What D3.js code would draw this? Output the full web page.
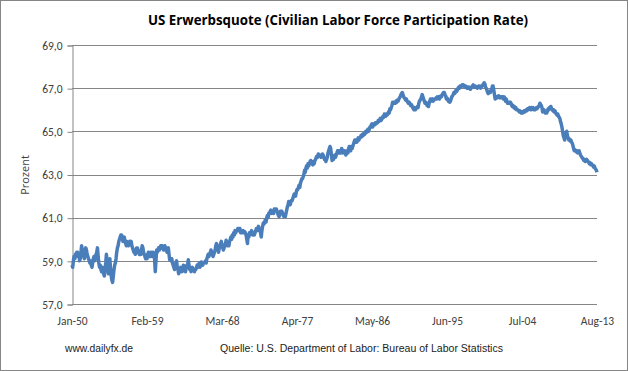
<!DOCTYPE html>
<html>
<head>
<meta charset="utf-8">
<script src="https://cdn.jsdelivr.net/npm/d3@7"></script>
<style>
  body { margin: 0; background: #fff; }
  svg { display: block; }
</style>
</head>
<body>
<div id="wrapper"></div>
<script>
// monthly participation rate, Jan 1950 .. Aug 2013
const rate1950s = [
  58.8,58.7,59.0,59.2,59.1,59.3,59.2,59.4,59.4,59.2,59.3,59.0,
  59.1,59.4,59.7,59.5,59.3,59.2,59.1,59.4,59.6,59.5,59.3,59.2,
  59.1,59.0,58.9,59.0,58.8,58.7,58.9,59.1,59.2,59.0,59.1,59.3,
  59.4,59.6,59.2,58.9,58.7,58.8,58.6,58.5,58.7,58.5,58.4,58.3,
  58.6,58.9,59.3,59.0,58.7,58.4,58.8,59.1,58.6,58.3,58.1,58.0,
  58.3,58.6,58.8,58.9,59.1,59.4,59.6,59.7,59.9,60.0,60.1,60.2,
  60.2,60.1,59.9,60.0,60.1,59.9,59.8,59.7,59.9,59.8,59.7,59.8,
  59.9,59.8,59.9,59.7,59.6,59.5,59.4,59.5,59.3,59.4,59.6,59.6,
  59.5,59.4,59.3,59.4,59.3,59.5,59.7,59.6,59.4,59.3,59.2,59.1,
  59.2,59.1,59.3,59.4,59.2,59.3,59.2,59.4,59.3,59.2,59.4,59.3
]
const rate1960s = [
  59.1,58.5,59.0,59.5,59.4,59.5,59.6,59.5,59.6,59.7,59.6,59.7,
  59.6,59.5,59.6,59.7,59.5,59.6,59.4,59.5,59.6,59.3,59.05,59.1,
  59.0,59.1,58.9,58.8,58.7,58.6,58.8,58.9,59.0,58.7,58.6,58.4,
  58.5,58.6,58.7,58.6,58.5,58.6,58.8,58.7,58.6,58.5,58.7,58.8,
  58.8,59.05,58.8,58.6,58.7,58.5,58.6,58.7,58.6,58.6,58.5,58.6,
  58.6,58.7,58.8,58.7,58.8,58.9,58.7,58.8,58.95,58.9,58.8,58.9,
  58.9,58.95,59.0,58.9,59.1,59.2,59.3,59.2,59.3,59.4,59.5,59.4,
  59.3,59.2,59.3,59.4,59.5,59.7,59.8,59.6,59.5,59.4,59.6,59.7,
  59.8,59.9,59.7,59.6,59.5,59.6,59.7,59.8,59.95,59.8,59.7,59.8,
  59.7,59.9,60.0,60.1,60.0,60.2,60.1,60.3,60.2,60.4,60.3,60.4
]
const rate1970s = [
  60.4,60.5,60.5,60.4,60.5,60.3,60.4,60.3,60.35,60.4,60.3,60.35,
  60.3,60.2,60.0,59.8,60.2,60.1,60.3,60.2,60.3,60.4,60.3,60.2,
  60.3,60.2,60.3,60.4,60.5,60.4,60.5,60.6,60.5,60.4,60.3,60.1,
  60.4,60.6,60.75,60.7,60.8,60.9,60.8,61.0,61.1,61.0,61.2,61.2,
  61.3,61.35,61.2,61.3,61.3,61.2,61.4,61.3,61.4,61.4,61.3,61.2,
  61.1,61.05,61.2,61.3,61.2,61.3,61.2,61.1,61.05,61.1,61.05,61.2,
  61.35,61.5,61.6,61.75,61.7,61.6,61.7,61.8,61.8,61.9,62.0,62.1,
  62.1,62.0,62.2,62.3,62.3,62.4,62.5,62.4,62.6,62.7,62.8,62.8,
  62.9,63.0,63.2,63.1,63.3,63.4,63.3,63.5,63.4,63.5,63.6,63.65,
  63.6,63.5,63.45,63.6,63.5,63.65,63.7,63.8,63.85,63.8,63.95,63.9
]
const rate1980s = [
  63.9,63.85,63.8,63.9,63.95,63.9,63.8,63.7,63.75,63.6,63.7,63.8,
  64.0,64.1,64.2,64.3,64.2,63.9,63.65,63.8,63.7,63.8,63.9,63.8,
  63.9,64.0,64.1,64.0,64.1,64.0,64.1,64.0,64.2,64.1,64.0,64.1,
  64.1,64.0,63.9,64.0,64.1,64.0,64.2,64.3,64.2,64.1,64.3,64.2,
  64.3,64.4,64.5,64.6,64.5,64.6,64.5,64.6,64.7,64.6,64.7,64.7,
  64.8,64.75,64.85,64.8,64.9,64.85,64.9,65.0,64.95,65.0,65.1,65.0,
  65.1,65.2,65.2,65.3,65.35,65.2,65.3,65.35,65.3,65.4,65.35,65.4,
  65.4,65.5,65.45,65.5,65.6,65.5,65.55,65.6,65.7,65.65,65.8,65.75,
  65.7,65.8,65.75,65.8,65.9,65.85,66.05,66.0,66.1,66.2,66.35,66.3,
  66.3,66.35,66.3,66.4,66.35,66.45,66.4,66.5,66.55,66.6,66.7,66.75
]
const rate1990s = [
  66.8,66.7,66.6,66.55,66.5,66.45,66.5,66.4,66.35,66.3,66.35,66.3,
  66.2,66.25,66.2,66.1,66.05,66.0,66.1,66.0,66.05,66.1,66.15,66.1,
  66.3,66.4,66.45,66.5,66.6,66.7,66.6,66.5,66.4,66.3,66.35,66.3,
  66.2,66.3,66.15,66.3,66.4,66.5,66.4,66.45,66.5,66.4,66.45,66.5,
  66.5,66.55,66.5,66.6,66.55,66.6,66.5,66.6,66.65,66.6,66.7,66.75,
  66.8,66.8,66.7,66.65,66.5,66.55,66.5,66.4,66.45,66.35,66.4,66.5,
  66.6,66.65,66.7,66.8,66.75,66.8,66.9,66.85,66.9,67.0,67.05,67.0,
  67.1,67.05,67.1,67.15,67.1,67.15,67.1,67.05,67.1,67.05,67.0,67.05,
  67.0,67.05,67.0,66.95,67.0,67.05,67.1,67.15,67.1,67.05,67.1,67.05,
  67.05,67.0,67.05,67.1,67.05,67.1,67.0,67.05,67.1,67.15,67.2,67.25
]
const rate2000s = [
  67.2,67.05,67.0,66.9,66.8,66.75,66.8,66.85,66.8,66.9,66.95,67.1,
  67.1,66.9,66.7,66.5,66.55,66.6,66.55,66.6,66.65,66.6,66.55,66.6,
  66.6,66.55,66.6,66.5,66.6,66.55,66.4,66.5,66.4,66.3,66.35,66.3,
  66.3,66.35,66.3,66.2,66.15,66.2,66.1,66.15,66.05,66.1,66.0,66.0,
  66.0,65.95,65.9,65.95,65.9,65.85,65.9,65.85,65.9,65.95,65.9,65.95,
  66.0,65.95,66.05,66.0,66.05,66.1,66.05,66.0,66.1,66.05,66.1,66.0,
  66.05,66.0,66.05,66.1,66.05,66.1,66.15,66.2,66.3,66.25,66.2,66.1,
  65.9,65.95,66.0,65.9,65.85,65.9,65.85,65.95,66.05,66.0,66.1,66.05,
  66.15,66.05,66.0,65.95,66.0,65.9,65.95,65.85,65.8,65.75,65.8,65.7,
  65.65,65.6,65.45,65.35,65.2,65.0,64.8,64.7,64.6,64.85,64.95,65.0
]
const rate2010s = [
  64.8,64.7,64.6,64.65,64.55,64.6,64.5,64.45,64.35,64.2,64.1,64.15,
  64.1,64.05,64.1,64.0,64.05,64.1,64.0,63.9,63.85,63.8,63.75,63.7,
  63.65,63.7,63.6,63.65,63.7,63.65,63.6,63.55,63.5,63.55,63.45,63.5,
  63.45,63.4,63.35,63.4,63.3,63.25,63.2,63.1
]

const tickLabels = ["Jan-50","Feb-59","Mar-68","Apr-77","May-86","Jun-95","Jul-04","Aug-13"]
const yTicks = [57, 59, 61, 63, 65, 67, 69]

const titleText = "US Erwerbsquote (Civilian Labor Force Participation Rate)"
const yLabel = "Prozent"
const footLeft = "www.dailyfx.de"
const footRight = "Quelle:  U.S. Department  of Labor: Bureau of Labor Statistics"

const dataset = [].concat(rate1950s, rate1960s, rate1970s, rate1980s, rate1990s, rate2000s, rate2010s)
  .map((v, i) => ({ month: i, rate: v }))

const xAccessor = d => d.month
const yAccessor = d => d.rate

let dimensions = {
  width: 628,
  height: 371,
  margin: { top: 45, right: 31, bottom: 67, left: 72 },
}
dimensions.boundedWidth = dimensions.width - dimensions.margin.left - dimensions.margin.right
dimensions.boundedHeight = dimensions.height - dimensions.margin.top - dimensions.margin.bottom

const wrapper = d3.select("#wrapper").append("svg")
    .attr("width", dimensions.width)
    .attr("height", dimensions.height)

// chart frame
wrapper.append("rect")
    .attr("x", 0.5).attr("y", 0.5)
    .attr("width", dimensions.width - 1).attr("height", dimensions.height - 1)
    .attr("fill", "#fff").attr("stroke", "#868686")

const bounds = wrapper.append("g")
    .attr("transform", `translate(${dimensions.margin.left},${dimensions.margin.top})`)

const xScale = d3.scaleLinear()
    .domain([0, dataset.length - 1])
    .range([0, dimensions.boundedWidth])

const yScale = d3.scaleLinear()
    .domain([57, 69])
    .range([dimensions.boundedHeight, 0])

const labelStep = (dataset.length - 1) / (tickLabels.length - 1)
const fmt = d3.formatLocale({ decimal: ",", thousands: ".", grouping: [3], currency: ["", " €"] }).format(".1f")

// gridlines
bounds.append("g").selectAll("line")
    .data(yTicks).enter().append("line")
        .attr("x1", 0).attr("x2", dimensions.boundedWidth)
        .attr("y1", d => Math.round(yScale(d)) + 0.5)
        .attr("y2", d => Math.round(yScale(d)) + 0.5)
        .attr("stroke", "#868686")

// y axis
const yAxis = bounds.append("g")
    .attr("transform", "translate(0.5,0.5)")
    .call(d3.axisLeft(yScale).tickValues(yTicks).tickFormat(fmt).tickSize(5).tickPadding(5))
yAxis.select(".domain").attr("stroke", "#868686")
yAxis.selectAll(".tick line").attr("stroke", "#868686")
yAxis.selectAll(".tick text")
    .attr("font-family", "Carlito, 'Open Sans', sans-serif")
    .attr("font-size", 11.5).attr("fill", "#404040")

// x axis
const xAxis = bounds.append("g")
    .attr("transform", `translate(0,${dimensions.boundedHeight})`)
    .call(d3.axisBottom(xScale)
        .tickValues(tickLabels.map((d, i) => i * labelStep))
        .tickFormat((d, i) => tickLabels[i])
        .tickSize(0).tickPadding(13))
xAxis.select(".domain").remove()
xAxis.selectAll(".tick text")
    .attr("font-family", "Carlito, 'Open Sans', sans-serif")
    .attr("font-size", 11.5).attr("fill", "#404040")

// the line
const lineGenerator = d3.line()
    .x(d => xScale(xAccessor(d)))
    .y(d => yScale(yAccessor(d)))

bounds.append("path")
    .attr("d", lineGenerator(dataset))
    .attr("fill", "none")
    .attr("stroke", "#4a7ebb")
    .attr("stroke-width", 3.5)
    .attr("stroke-linejoin", "round")

// title
wrapper.append("text")
    .attr("x", 148).attr("y", 25)
    .attr("textLength", 380).attr("lengthAdjust", "spacingAndGlyphs")
    .attr("font-family", "'Open Sans', sans-serif")
    .attr("font-weight", "bold").attr("font-size", 14).attr("fill", "#000")
    .text(titleText)

wrapper.append("text")
    .attr("transform", `translate(29,175) rotate(-90)`)
    .attr("text-anchor", "middle")
    .attr("font-family", "'Open Sans', sans-serif")
    .attr("font-size", 11).attr("fill", "#404040")
    .text(yLabel)

// footer
wrapper.append("text")
    .attr("x", 65).attr("y", 352)
    .attr("textLength", 68).attr("lengthAdjust", "spacingAndGlyphs")
    .attr("font-family", "'Liberation Sans', Arial, sans-serif")
    .attr("font-size", 10).attr("fill", "#222")
    .text(footLeft)

wrapper.append("text")
    .attr("x", 220).attr("y", 352)
    .attr("textLength", 283).attr("lengthAdjust", "spacingAndGlyphs")
    .attr("font-family", "'Liberation Sans', Arial, sans-serif")
    .attr("font-size", 10).attr("fill", "#222")
    .text(footRight)
</script>
</body>
</html>
